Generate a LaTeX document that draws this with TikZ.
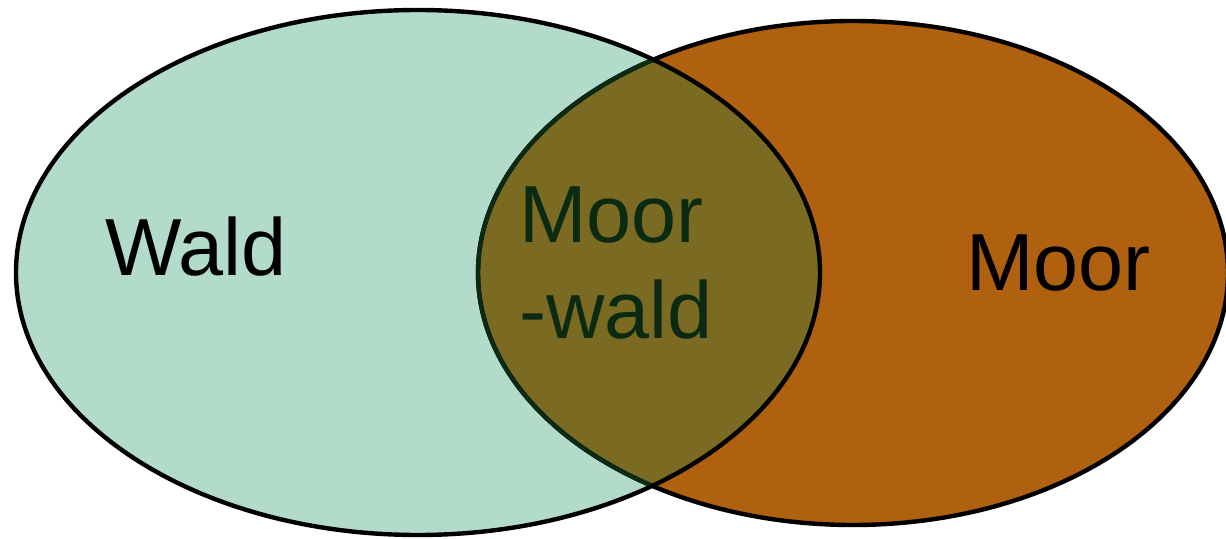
\documentclass[tikz,border=0pt]{standalone}
\usepackage{fontspec}
\setmainfont{Liberation Sans}
\definecolor{waldfill}{HTML}{B3DBC9}
\definecolor{moorfill}{HTML}{B0610F}
\definecolor{mixfill}{HTML}{7B6A21}
\definecolor{darkgreen}{HTML}{0B2A12}
\tikzset{
  lbl/.style={inner sep=0pt, anchor=base west, font=\fontsize{40.5pt}{48pt}\selectfont},
  outline/.style={line width=2.2pt}
}
\begin{document}
\begin{tikzpicture}[x=0.5pt,y=-0.5pt]
\useasboundingbox (0,0) rectangle (1226,539);
% fills
\fill[waldfill] (418,272.5) ellipse [x radius=201pt, y radius=131.25pt];
\fill[moorfill] (853,273) ellipse [x radius=187.5pt, y radius=126pt];
% overlap
\begin{scope}
  \clip (418,272.5) ellipse [x radius=201pt, y radius=131.25pt];
  \fill[mixfill] (853,273) ellipse [x radius=187.5pt, y radius=126pt];
\end{scope}
% outlines
\draw[outline] (418,272.5) ellipse [x radius=201pt, y radius=131.25pt];
\draw[outline] (853,273) ellipse [x radius=187.5pt, y radius=126pt];
\begin{scope}
  \clip (418,272.5) ellipse [x radius=200pt, y radius=130.25pt];
  \draw[outline, darkgreen] (853,273) ellipse [x radius=187.5pt, y radius=126pt];
\end{scope}
% labels
\node[lbl] (wald) at (105,276) {Wald};
\node[lbl] (moor) at (966,291) {Moor};
\node[lbl, text=darkgreen] (mw1) at (519,243) {Moor};
\node[lbl, text=darkgreen] (mw2) at (519,339) {-wald};
\end{tikzpicture}
\end{document}
